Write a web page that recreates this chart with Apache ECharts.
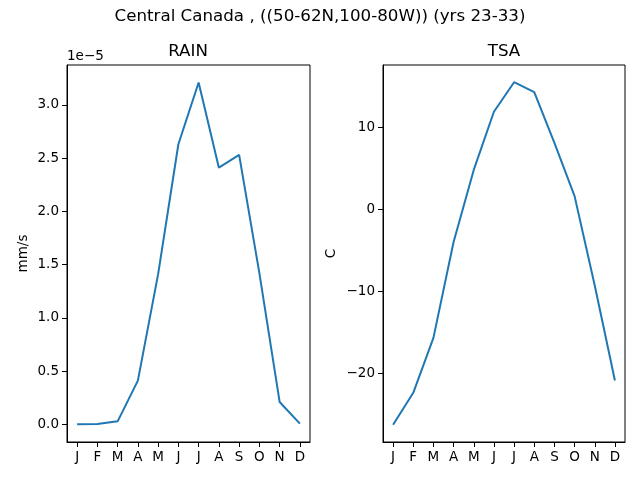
<!DOCTYPE html>
<html>
<head>
<meta charset="utf-8">
<script src="https://cdn.jsdelivr.net/npm/echarts@6/dist/echarts.min.js"></script>
<style>
  html, body { margin: 0; padding: 0; background: #fff; }
  #chart { width: 640px; height: 480px; }
</style>
</head>
<body>
<div id="chart"></div>
<script>
// months on the x axis
var months = ['J', 'F', 'M', 'A', 'M', 'J', 'J', 'A', 'S', 'O', 'N', 'D'];

// RAIN, in units of 1e-5 mm/s (axis offset shown as "1e−5")
var rain = [0.0, 0.002, 0.028, 0.41, 1.41, 2.63, 3.21, 2.41, 2.53, 1.42, 0.21, 0.007];
// TSA, degrees C
var tsa = [-26.3, -22.4, -15.7, -4.0, 4.8, 11.9, 15.5, 14.3, 8.1, 1.6, -9.3, -20.9];

// tick values
var rainTicks = [0.0, 0.5, 1.0, 1.5, 2.0, 2.5, 3.0];
var tsaTicks = [-20, -10, 0, 10];

var font = 'DejaVu Sans';
var chart = echarts.init(document.getElementById('chart'));

function yAxisFor(idx, min, max, ticks, fmt, name, gap) {
    return {
        type: 'value',
        gridIndex: idx,
        min: min,
        max: max,
        name: name,
        nameLocation: 'middle',
        nameGap: gap,
        nameRotate: 90,
        nameTextStyle: { color: '#000', fontFamily: font, fontSize: 13.5 },
        axisLine: { show: true, onZero: false, lineStyle: { color: '#000', width: 1 } },
        axisTick: { show: true, length: 5, customValues: ticks, lineStyle: { color: '#000' } },
        axisLabel: {
            customValues: ticks,
            color: '#000', fontFamily: font, fontSize: 13.5, margin: 8,
            formatter: fmt
        },
        splitLine: { show: false }
    };
}

function xAxisFor(idx) {
    return {
        type: 'category',
        gridIndex: idx,
        data: months,
        boundaryGap: true,
        axisLine: { show: true, onZero: false, lineStyle: { color: '#000', width: 1 } },
        axisTick: { show: true, alignWithLabel: true, length: 5, lineStyle: { color: '#000' } },
        axisLabel: { color: '#000', fontFamily: font, fontSize: 13.5, margin: 8, interval: 0 },
        splitLine: { show: false }
    };
}

var option = {
    animation: false,
    backgroundColor: '#fff',
    graphic: [
        { type: 'text', x: 320, y: 17, style: { text: 'Central Canada , ((50-62N,100-80W)) (yrs 23-33)', font: '16.7px "DejaVu Sans"', fill: '#000', textAlign: 'center', textVerticalAlign: 'middle' } },
        { type: 'text', x: 188, y: 52, style: { text: 'RAIN', font: '16.7px "DejaVu Sans"', fill: '#000', textAlign: 'center', textVerticalAlign: 'middle' } },
        { type: 'text', x: 504, y: 52, style: { text: 'TSA', font: '16.7px "DejaVu Sans"', fill: '#000', textAlign: 'center', textVerticalAlign: 'middle' } },
        { type: 'text', x: 67, y: 56, style: { text: '1e\u22125', font: '13.5px "DejaVu Sans"', fill: '#000', textAlign: 'left', textVerticalAlign: 'middle' } }
    ],
    grid: [
        { left: 67, top: 65, width: 243, height: 377, show: true, borderColor: '#000', borderWidth: 1, backgroundColor: 'transparent' },
        { left: 383, top: 65, width: 242, height: 377, show: true, borderColor: '#000', borderWidth: 1, backgroundColor: 'transparent' }
    ],
    xAxis: [xAxisFor(0), xAxisFor(1)],
    yAxis: [
        yAxisFor(0, -0.166, 3.374, rainTicks, function (v) { return v.toFixed(1); }, 'mm/s', 37),
        yAxisFor(1, -28.4, 17.6, tsaTicks, function (v) { return String(v).replace('-', '\u2212'); }, 'C', 45)
    ],
    series: [
        {
            name: 'RAIN', type: 'line', xAxisIndex: 0, yAxisIndex: 0,
            data: rain, showSymbol: false, symbol: 'none',
            lineStyle: { color: '#1f77b4', width: 2 }
        },
        {
            name: 'TSA', type: 'line', xAxisIndex: 1, yAxisIndex: 1,
            data: tsa, showSymbol: false, symbol: 'none',
            lineStyle: { color: '#1f77b4', width: 2 }
        }
    ]
};

chart.setOption(option);
</script>
</body>
</html>
